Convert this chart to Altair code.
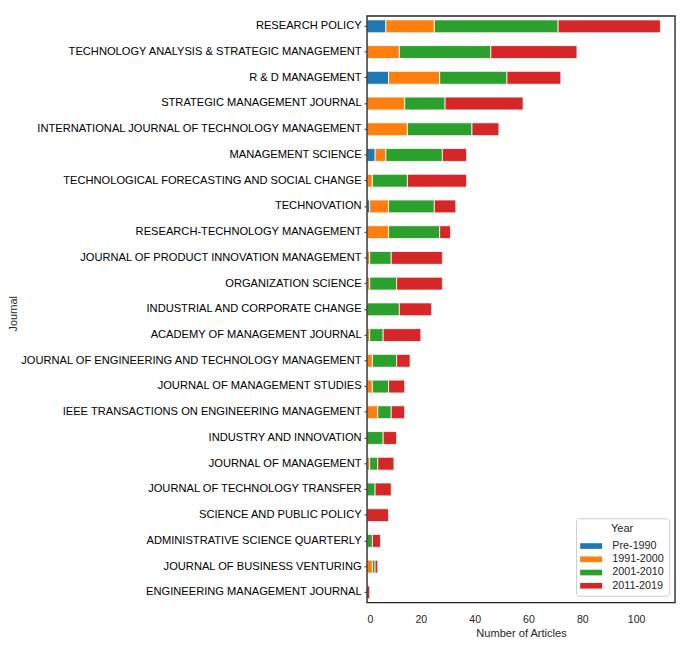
import altair as alt
import pandas as pd

journals = [
    "RESEARCH POLICY",
    "TECHNOLOGY ANALYSIS & STRATEGIC MANAGEMENT",
    "R & D MANAGEMENT",
    "STRATEGIC MANAGEMENT JOURNAL",
    "INTERNATIONAL JOURNAL OF TECHNOLOGY MANAGEMENT",
    "MANAGEMENT SCIENCE",
    "TECHNOLOGICAL FORECASTING AND SOCIAL CHANGE",
    "TECHNOVATION",
    "RESEARCH-TECHNOLOGY MANAGEMENT",
    "JOURNAL OF PRODUCT INNOVATION MANAGEMENT",
    "ORGANIZATION SCIENCE",
    "INDUSTRIAL AND CORPORATE CHANGE",
    "ACADEMY OF MANAGEMENT JOURNAL",
    "JOURNAL OF ENGINEERING AND TECHNOLOGY MANAGEMENT",
    "JOURNAL OF MANAGEMENT STUDIES",
    "IEEE TRANSACTIONS ON ENGINEERING MANAGEMENT",
    "INDUSTRY AND INNOVATION",
    "JOURNAL OF MANAGEMENT",
    "JOURNAL OF TECHNOLOGY TRANSFER",
    "SCIENCE AND PUBLIC POLICY",
    "ADMINISTRATIVE SCIENCE QUARTERLY",
    "JOURNAL OF BUSINESS VENTURING",
    "ENGINEERING MANAGEMENT JOURNAL",
]

periods = ["Pre-1990", "1991-2000", "2001-2010", "2011-2019"]
pre_1990 = [7, 0, 8, 0, 0, 3, 0, 1, 0, 0, 0, 0, 0, 0, 0, 0, 0, 0, 0, 0, 0, 0, 0]
y1991_2000 = [18, 12, 19, 14, 15, 4, 2, 7, 8, 1, 1, 0, 1, 2, 2, 4, 0, 1, 0, 0, 0, 2, 0]
y2001_2010 = [46, 34, 25, 15, 24, 21, 13, 17, 19, 8, 10, 12, 5, 9, 6, 5, 6, 3, 3, 0, 2, 1, 0]
y2011_2019 = [38, 32, 20, 29, 10, 9, 22, 8, 4, 19, 17, 12, 14, 5, 6, 5, 5, 6, 6, 8, 3, 1, 1]
colors = ["#1f77b4", "#ff7f0e", "#2ca02c", "#d62728"]

rows = []
for series, vals in zip(periods, [pre_1990, y1991_2000, y2001_2010, y2011_2019]):
    for j, v in zip(journals, vals):
        rows.append({"Journal": j, "Year": series, "Articles": v,
                     "order": periods.index(series)})
df = pd.DataFrame(rows)

FONT = "Liberation Sans"
TXT = "#262626"
W, H = 314, 598

bars = (
    alt.Chart(df)
    .transform_filter("datum.Articles > 0")
    .mark_bar(stroke="white", strokeWidth=0.8)
    .encode(
        y=alt.Y("Journal:N", sort=journals, title="Journal",
                scale=alt.Scale(paddingInner=0.5, paddingOuter=0.15),
                axis=alt.Axis(labelFontSize=11.35, labelLimit=500, labelPadding=3,
                              tickSize=3, tickColor=TXT, domain=False,
                              labelColor="black",
                              titleFontSize=11, titleFontWeight="normal",
                              titleColor=TXT, titleX=-355, titleY=H / 2 + 4,
                              titleAnchor="middle")),
        x=alt.X("sum(Articles):Q", title="Number of Articles",
                scale=alt.Scale(domain=[0, 114.45], nice=False, zero=True),
                axis=alt.Axis(values=[0, 20, 40, 60, 80, 100], grid=False,
                              ticks=False, domain=False, labelPadding=11,
                              labelFontSize=10.8, labelColor=TXT,
                              titleFontSize=11.3, titleFontWeight="normal",
                              titleColor=TXT, titlePadding=4)),
        color=alt.Color("Year:N", sort=periods,
                        scale=alt.Scale(domain=periods, range=colors),
                        legend=alt.Legend(
                            title="Year", orient="none",
                            legendX=W - 101, legendY=H - 86,
                            titleAnchor="middle", titleFontWeight="normal",
                            titleFontSize=11.3, titleColor=TXT, titlePadding=4,
                            labelFontSize=11, labelColor=TXT,
                            symbolType="M-1.4,-0.36L1.4,-0.36L1.4,0.36L-1.4,0.36Z",
                            symbolSize=256, symbolStrokeWidth=0,
                            symbolOffset=2.5,
                            rowPadding=0.5, labelOffset=13.5,
                            fillColor="white", strokeColor="#cccccc",
                            cornerRadius=3, padding=5)),
        order=alt.Order("order:Q"),
    )
)

frame = (
    alt.Chart(pd.DataFrame({"f": [0]}))
    .mark_rect(fillOpacity=0, stroke=TXT, strokeWidth=1.4)
    .encode(x=alt.value(0), x2=alt.value(W), y=alt.value(0), y2=alt.value(H))
)

chart = (
    alt.layer(bars, frame)
    .properties(width=W, height=H,
                padding={"left": 0, "top": 1, "right": 1, "bottom": 0})
    .configure(font=FONT)
    .configure_view(strokeWidth=0)
)

chart.save("out.html", embed_options={"renderer": "svg", "actions": False})
